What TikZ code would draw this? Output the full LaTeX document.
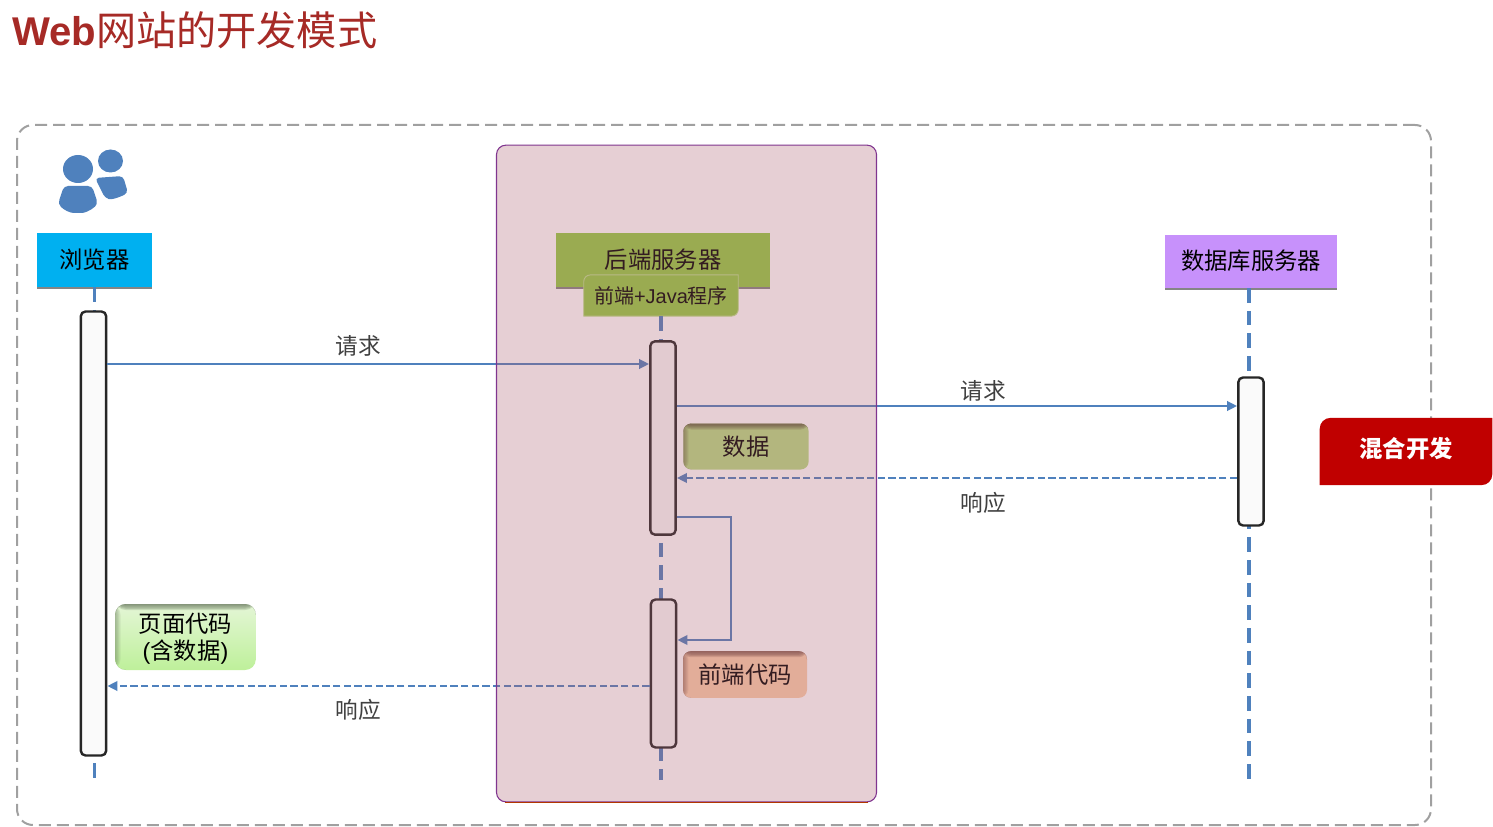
\documentclass[tikz,border=0pt]{standalone}
\usepackage{fontspec}
\usepackage{xcolor}
\setmainfont{Liberation Sans}
\newfontfamily\cjk{Noto Sans CJK SC}
\usetikzlibrary{arrows.meta, positioning, shadows}
\definecolor{titlered}{HTML}{A62A26}
\definecolor{framegrey}{HTML}{A0A0A0}
\definecolor{lineblue}{HTML}{4F81BD}
\definecolor{browsercol}{HTML}{00B0F0}
\definecolor{backendcol}{HTML}{93CC45}
\definecolor{dbcol}{HTML}{C791FB}
\definecolor{hybridred}{HTML}{C00000}
\definecolor{overlaycol}{RGB}{172,95,112}
\definecolor{dataface}{RGB}{183,220,133}
\definecolor{datadark}{RGB}{70,60,40}
\definecolor{codeface}{RGB}{250,207,171}
\definecolor{codedark}{RGB}{90,55,50}
\definecolor{pagetop}{HTML}{E4F6D6}
\definecolor{pagebottom}{HTML}{BEF09A}
\definecolor{pagedark}{HTML}{5A6A50}
\definecolor{regionline}{HTML}{80358F}

\begin{document}
\begin{tikzpicture}[x=0.75pt, y=-0.75pt,
      rolebox/.style={rectangle, inner sep=0pt, align=center, text depth=2.6pt, font=\cjk\fontsize{17.5}{20}\selectfont,
        drop shadow={shadow xshift=0pt, shadow yshift=-1.5pt, opacity=0.8, fill=black!60}},
      barbox/.style={rectangle, draw=black!85, line width=1.8pt, rounded corners=3.5pt, fill=black!2, minimum width=19pt, inner sep=0pt},
      inset/.style={path picture={
          \foreach \d in {1,...,5} {
            \fill[#1, fill opacity=0.1] (path picture bounding box.north west) rectangle ([xshift=0.8*\d pt]path picture bounding box.south west);
            \fill[#1, fill opacity=0.2] (path picture bounding box.north west) rectangle ([yshift=-0.9*\d pt]path picture bounding box.north east);
          }}},
      notebox/.style 2 args={rectangle, rounded corners=6pt, inner sep=0pt, fill=#1, inset=#2, font=\cjk\fontsize{17.5}{20}\selectfont},
      msglabel/.style={font=\cjk\fontsize{17}{20}\selectfont, text=black!75, inner sep=0pt},
      lifeline/.style={lineblue, line width=2.3pt, dash pattern=on 11pt off 6pt},
      arr/.style={-{Triangle[length=7.5pt, width=7pt]}, lineblue, line width=2pt},
      retarr/.style={arr, dash pattern=on 5.5pt off 2.5pt}]
  \useasboundingbox (0,0) rectangle (1493,827);
  % title
  \node[anchor=west, inner sep=0pt, text=titlered] (title) at (12,30)
    {\fontsize{30.1}{34}\selectfont\textbf{Web}{\cjk 网站的开发模式}};
  % outer frame
  \node[rectangle, draw=framegrey, line width=1.5pt, rounded corners=12pt, dash pattern=on 9pt off 4.5pt,
    minimum width=1060.5pt, minimum height=525pt] (frame) at (724,475) {};
  % user icon
  \fill[lineblue] (78,169) ellipse [x radius=15, y radius=14];
  \fill[lineblue] (110.5,161) ellipse [x radius=12.5, y radius=11.5];
  \fill[lineblue, rounded corners=3pt] (64,186) -- (92,186) -- (98,204) .. controls (90,211) and (84,213) .. (78,213)
    .. controls (70,213) and (64,210) .. (58,204) -- cycle;
  \fill[lineblue, rounded corners=3pt] (95,178) -- (123,176) -- (128,193) .. controls (120,197) and (112,200) .. (105,198) -- cycle;
  % participants
  \node[rolebox, fill=browsercol, minimum width=86pt, minimum height=40.5pt] (browser) at (94.5,260) {浏览器};
  \node[rolebox, fill=backendcol, minimum width=160.5pt, minimum height=40pt] (backend) at (663,260) {后端服务器};
  \node[rolebox, fill=dbcol, minimum width=129pt, minimum height=39.5pt] (database) at (1251,261.5) {数据库服务器};
  % java box
  \node[minimum width=115.5pt, minimum height=30.5pt, inner sep=0pt] (java) at (661,295.5) {};
  \draw[backendcol!60!white, line width=0.7pt, preaction={fill=backendcol}]
    (java.south west) [rounded corners=5pt] -- (java.north west) [sharp corners] -- (java.north east) [rounded corners=5pt] -- (java.south east) [sharp corners] -- cycle;
  \node[inner sep=0pt, font=\fontsize{15}{18}\selectfont] (javatext) at (java) {{\cjk 前端}+Java{\cjk 程序}};
  % lifelines
  \coordinate (browserend) at (94.5,780);
  \coordinate (javaend) at (661,780);
  \coordinate (dbend) at (1249,780);
  \draw[lifeline] (browser.south) -- (browserend);
  \draw[lifeline] (java.south) -- (javaend);
  \draw[lifeline] (database.south -| dbend) -- (dbend);
  % activation bars
  \node[barbox, minimum height=333pt] (browserbar) at (93.5,533.5) {};
  \node[barbox, minimum height=145pt] (servbara) at (663,438) {};
  \node[barbox, minimum height=111pt] (servbarb) at (663.5,673.5) {};
  \node[barbox, minimum height=111pt] (dbbar) at (1251,451.5) {};
  % messages
  \coordinate (reqy) at (0,364);
  \coordinate (dbreqy) at (0,406);
  \coordinate (dbresy) at (0,478);
  \coordinate (selfy) at (0,517);
  \coordinate (selfz) at (0,640);
  \coordinate (resy) at (0,686);
  \coordinate (selfx) at (731,0);
  \draw[arr] (browserbar.east |- reqy) -- (servbara.west |- reqy);
  \draw[arr] (servbara.east |- dbreqy) -- (dbbar.west |- dbreqy);
  \draw[retarr] (dbbar.west |- dbresy) -- (servbara.east |- dbresy);
  \draw[arr] (servbara.east |- selfy) -- (selfx |- selfy) -- (selfx |- selfz) -- (servbarb.east |- selfz);
  \draw[retarr] (servbarb.west |- resy) -- (browserbar.east |- resy);
  \node[msglabel] (reqlabel) at (358,346) {请求};
  \node[msglabel] (dbreqlabel) at (983,391) {请求};
  \node[msglabel] (dbreslabel) at (983,503) {响应};
  \node[msglabel] (reslabel) at (358,710) {响应};
  % notes
  \node[notebox={dataface}{datadark}, minimum width=94pt, minimum height=34.5pt] (datanote) at (746,446.5) {数据};
  \node[notebox={codeface}{codedark}, minimum width=93pt, minimum height=35pt] (codenote) at (745,674.5) {前端代码};
  \node[rectangle, rounded corners=8pt, inner sep=0pt, top color=pagetop, bottom color=pagebottom, align=center,
    inset=pagedark, minimum width=105.5pt, minimum height=49.5pt, font=\cjk\fontsize{17.5}{20.5}\selectfont]
    (pagenote) at (185.5,637) {\rule{0pt}{17.5pt}页面代码\\{\fontspec{Liberation Sans}(}含数据{\fontspec{Liberation Sans})}};
  % backend region, laid over what stands in it
  \node[rectangle, draw=regionline, line width=0.8pt, fill=overlaycol, fill opacity=0.3, draw opacity=1,
    rounded corners=7pt, minimum width=285pt, minimum height=492.5pt, inner sep=0pt] (region) at (686.5,473.5) {};
  \draw[orange!60!red!70!black, line width=0.6pt] ([xshift=7pt]region.south west) -- ([xshift=-7pt]region.south east);
  % hybrid tag
  \node[minimum width=129pt, minimum height=50pt, inner sep=0pt] (hybrid) at (1406,451.5) {};
  \fill[hybridred] (hybrid.south west) [rounded corners=8pt] -- (hybrid.north west) [sharp corners] -- (hybrid.north east) [rounded corners=8pt] -- (hybrid.south east) [sharp corners] -- cycle;
  \node[text=white, inner sep=0pt, font=\cjk\bfseries\fontsize{17.5}{20}\selectfont] (hybridtext) at ([yshift=2pt]hybrid) {混合开发};
\end{tikzpicture}
\end{document}
